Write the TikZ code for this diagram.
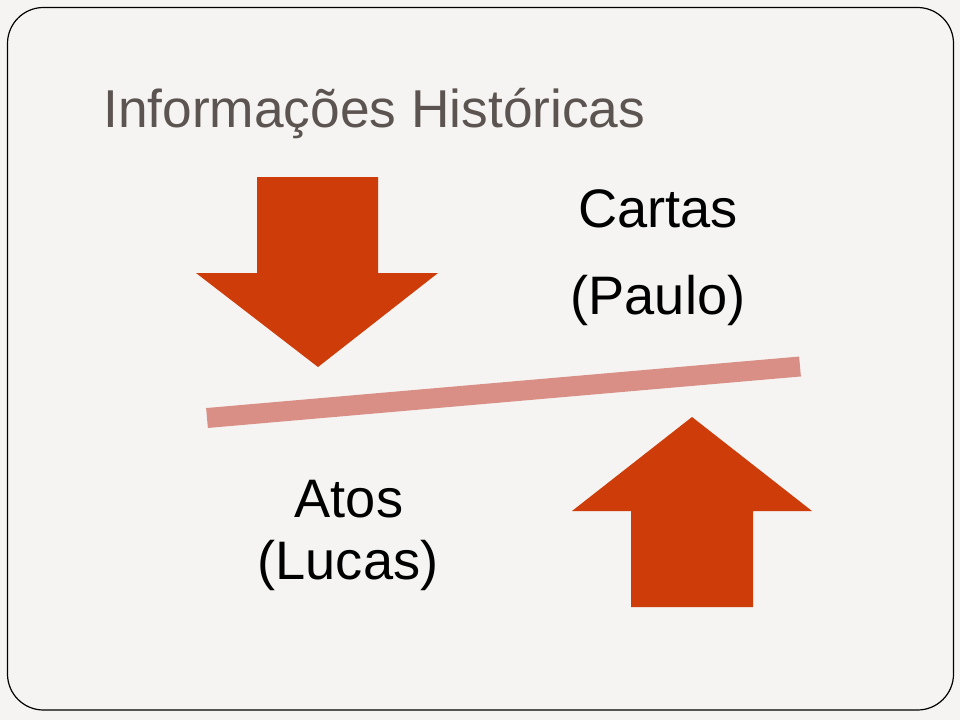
\documentclass[tikz,border=0pt]{standalone}
\usepackage{fontspec}
\setmainfont{Liberation Sans}

\definecolor{slideBg}{RGB}{245,244,243}
\definecolor{arrowRed}{RGB}{206,60,10}
\definecolor{barPink}{RGB}{218,143,134}
\definecolor{titleGray}{RGB}{92,84,80}

\tikzset{
  bigtext/.style={inner sep=0pt, anchor=base, font=\fontsize{54.2}{64}\selectfont},
}

\begin{document}
\begin{tikzpicture}[x=1pt, y=-1pt]

  % ---- page ----
  \fill[slideBg] (0,0) rectangle (960,720);
  \useasboundingbox (0,0) rectangle (960,720);
  \draw[line width=1.2pt, rounded corners=36pt] (7.5,7.5) rectangle (953.5,710);

  % ---- title ----
  \node[bigtext, anchor=base west, titleGray, font=\fontsize{53.3}{64}\selectfont]
    (title) at (103,127) {Informações Históricas};

  % ---- down arrow ----
  \fill[arrowRed] (257,177) -- (378,177) -- (378,273) -- (438,273)
    -- (318,367) -- (196,273) -- (257,273) -- cycle;
  % ---- up arrow ----
  \fill[arrowRed] (692,417) -- (812,511) -- (753,511) -- (753,607)
    -- (631,607) -- (631,511) -- (572,511) -- cycle;

  % ---- bar ----
  \coordinate (barL) at (207,418);
  \coordinate (barR) at (800,366.5);
  \draw[barPink, line width=20pt] (barL) -- (barR);

  % ---- labels ----
  \node[bigtext] (cartas) at (658,227) {Cartas};
  \node[bigtext] (paulo) at (658,314) {(Paulo)};
  \node[bigtext] (atos) at (349,517) {Atos};
  \node[bigtext] (lucas) at (348,579) {(Lucas)};

\end{tikzpicture}
\end{document}
